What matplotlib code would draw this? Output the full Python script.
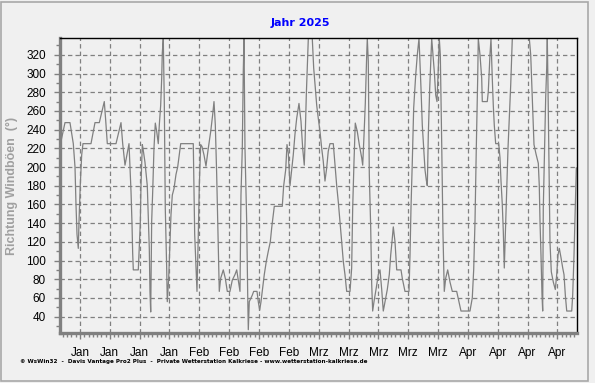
import matplotlib
matplotlib.use('Agg')
import matplotlib.pyplot as plt
from matplotlib.patches import Rectangle
from matplotlib.ticker import MultipleLocator

# Tage seit 1. Januar 2025 und Richtung der Windböen in Grad
tage = [0.38, 1.48, 2.65, 3.43, 3.83, 4.06, 4.30, 4.60, 4.77, 5.07, 5.40, 5.70,
        7.58, 8.52, 9.53, 10.70, 11.03, 11.41, 13.45, 14.62, 15.02, 15.56, 16.50,
        16.73, 16.97, 17.20, 17.36, 17.51, 18.68, 18.84, 19.15, 19.31, 19.62,
        19.78, 20.25, 20.79, 21.26, 21.42, 21.59, 21.82, 22.06, 22.36, 22.67,
        23.00, 23.37, 23.61, 23.93, 24.17, 24.31, 24.54, 24.78, 25.01, 25.34,
        25.48, 25.81, 26.35, 26.66, 27.06, 27.52, 27.92, 28.30, 28.63, 31.58,
        31.91, 32.22, 32.45, 32.76, 32.99, 33.32, 33.62, 34.09, 34.56, 35.10,
        35.67, 36.13, 36.44, 36.75, 37.07, 37.31, 37.54, 37.68, 38.01, 38.62,
        39.09, 39.56, 40.19, 40.73, 41.37, 41.77, 42.14, 42.54, 42.77, 43.08,
        43.31, 43.48, 43.71, 44.11, 44.35, 44.49, 44.72, 45.43, 45.75, 46.53,
        46.83, 47.16, 47.47, 47.77, 48.24, 48.71, 49.18, 49.65, 49.98, 50.35,
        50.59, 52.46, 52.79, 53.26, 53.57, 53.87, 54.27, 54.67, 55.04, 55.44,
        55.84, 56.38, 56.85, 57.25, 57.62, 57.79, 58.10, 58.42, 58.57, 59.50,
        59.83, 60.14, 60.54, 60.91, 61.31, 61.71, 62.08, 62.48, 62.88, 63.25,
        63.65, 64.43, 64.83, 65.23, 65.60, 66.00, 66.40, 66.78, 67.17, 67.57,
        68.35, 68.74, 68.98, 69.29, 69.59, 70.06, 70.53, 71.09, 71.33, 71.63,
        71.94, 72.27, 72.41, 72.64, 72.88, 73.21, 73.44, 73.67, 73.98, 74.45,
        74.99, 75.39, 75.79, 76.16, 76.56, 77.10, 77.57, 77.90, 78.20, 78.51,
        78.91, 79.31, 80.08, 80.32, 80.62, 81.25, 82.19, 82.43, 82.66, 82.97,
        83.29, 83.76, 84.14, 84.54, 84.70, 85.01, 85.31, 85.64, 85.95, 86.25,
        86.49, 86.72, 87.05, 87.35, 87.52, 87.82, 88.13, 88.46, 88.76, 89.07,
        89.30, 89.54, 89.87, 90.17, 90.47, 90.80, 91.27, 91.81, 92.35, 93.38,
        93.92, 94.39, 96.50, 97.04, 97.37, 97.68, 97.98, 98.31, 98.45, 98.85,
        99.25, 99.39, 100.56, 100.80, 101.19, 101.43, 101.73, 101.97, 102.20,
        102.53, 103.24, 103.54, 103.78, 104.08, 104.32, 104.48, 104.55, 104.79,
        105.12, 105.42, 105.73, 106.06, 106.29, 106.43, 110.42, 110.75, 110.98,
        111.22, 111.52, 111.99, 112.53, 112.76, 112.93, 113.16, 113.40, 113.56,
        113.70, 114.03, 114.26, 114.50, 114.64, 114.80, 115.04, 115.27, 115.58,
        116.05, 116.52, 116.85, 117.15, 117.46, 117.86, 118.26, 118.56, 118.87,
        119.20, 120.37, 120.60, 120.91, 121.15, 121.45]
richtung = [224, 247.5, 247.5, 225, 200, 160, 128, 113, 142, 181, 213, 225,
            225, 247.5, 247.5, 270, 250, 225, 225, 247.5, 225, 202, 225,
            200, 174, 140, 108, 90, 90, 108, 140, 180, 224,
            220, 205, 180, 113, 67, 45, 142, 174, 220, 247,
            238, 225, 245, 266, 295, 322, 337.5, 270, 156, 92,
            56, 81, 149, 170, 177, 192, 200, 213, 225, 225,
            128, 92, 67, 128, 180, 224, 222, 213, 201, 220,
            238, 256, 270, 245, 192, 142, 97, 67, 81, 90,
            81, 67, 67, 79, 85, 90, 79, 67, 170, 220,
            302, 337.5, 220, 142, 63, 26, 56, 63, 67, 67,
            56, 47, 56, 67, 85, 99, 110, 120, 135, 149,
            158, 158, 180, 197, 224, 215, 180, 197, 213, 235,
            252, 268, 249, 220, 202, 224, 277, 320, 337.5, 337.5,
            306, 288, 266, 252, 238, 220, 206, 185, 199, 217,
            225, 225, 202, 180, 163, 142, 120, 99, 85, 67,
            67, 92, 156, 206, 247, 238, 224, 210, 202, 233,
            268, 320, 337.5, 313, 192, 135, 75, 46, 56, 69,
            85, 90, 69, 46, 56, 69, 85, 106, 120, 136,
            120, 90, 90, 90, 81, 67, 67, 106, 156, 206,
            263, 298, 320, 337.5, 320, 284, 245, 220, 197, 186,
            180, 234, 284, 320, 337.5, 320, 302, 277, 270, 306,
            337.5, 320, 224, 128, 67, 81, 90, 77, 67, 67,
            56, 46, 46, 60, 90, 142, 220, 295, 337.5, 320,
            295, 270, 270, 281, 320, 337.5, 295, 266, 245,
            225, 225, 210, 185, 160, 131, 106, 92, 128,
            180, 220, 252, 288, 320, 337.5, 337.5, 320, 291,
            263, 224, 214, 204, 180, 142, 106, 63, 46,
            156, 224, 274, 306, 337.5, 288, 199, 120, 88,
            77, 69, 85, 106, 113, 103, 92, 85, 63,
            46, 46, 63, 106, 146, 199]

# Montage (Wochenanfang) als Achsenbeschriftung
tick_tage = [5, 12, 19, 26, 33, 40, 47, 54, 61, 68, 75, 82, 89, 96, 103, 110, 117]
tick_labels = ['Jan'] * 4 + ['Feb'] * 4 + ['Mrz'] * 5 + ['Apr'] * 4
y_ticks = list(range(40, 321, 20))

bg = '#f0f0f0'
grau = '#808080'

fig = plt.figure(figsize=(5.95, 3.83), dpi=100, facecolor=bg)
ax = fig.add_axes([60 / 595, 1 - 333 / 383, 517 / 595, 295 / 383])
ax.set_facecolor(bg)

ax.plot(tage, richtung, color=grau, linewidth=0.9)

ax.set_xlim(0.31, 121.61)
ax.set_ylim(22.5, 338)

ax.set_xticks(tick_tage, tick_labels)
ax.xaxis.set_minor_locator(MultipleLocator(1))
ax.set_yticks(y_ticks)
ax.yaxis.set_minor_locator(MultipleLocator(10))

ax.grid(True, which='major', color=grau, linestyle=(0, (3.5, 2.5)), linewidth=0.9)

for s in ['left', 'bottom']:
    ax.spines[s].set_color(grau)
    ax.spines[s].set_linewidth(2.4)
for s in ['top', 'right']:
    ax.spines[s].set_color('black')
    ax.spines[s].set_linewidth(1.0)

ax.tick_params(which='major', direction='out', length=4, width=1, color=grau,
               labelsize=8.5, labelcolor='black', pad=6)
ax.tick_params(which='minor', direction='out', length=3, width=1, color=grau)
for lab in ax.get_xticklabels() + ax.get_yticklabels():
    lab.set_fontfamily('Liberation Sans')

ax.set_ylabel('Richtung Windböen  (°)', color='#a0a0a0', fontsize=9,
              fontweight='bold', family='Liberation Sans', labelpad=6)

fig.text(0.505, 0.94, 'Jahr 2025', color='#0000ff', fontsize=8, fontweight='bold',
         ha='center', va='center')
fig.text(20 / 595, 1 - 362 / 383,
         '© WsWin32  -  Davis Vantage Pro2 Plus  -  Private Wetterstation Kalkriese - www.wetterstation-kalkriese.de',
         fontsize=4.1, fontweight='bold', color='black', ha='left', va='center')

fig.patches.append(Rectangle((0.002, 0.004), 0.986, 0.99, transform=fig.transFigure,
                             fill=False, edgecolor='#a8a8a8', linewidth=1.2))

fig.savefig('out.png', dpi=100, facecolor=bg)
